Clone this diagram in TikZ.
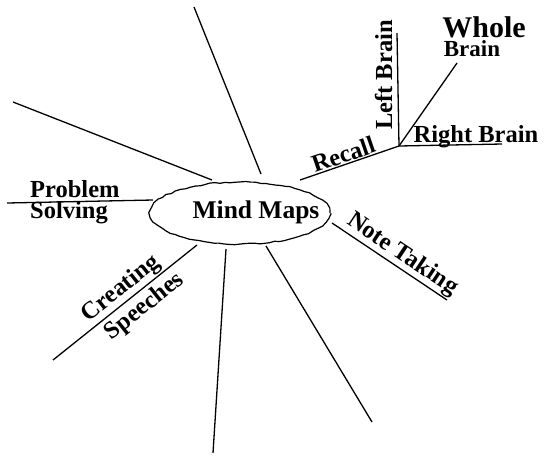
\documentclass[tikz,border=0pt]{standalone}
\usepackage{fontspec}
\setmainfont{Liberation Serif}
\usetikzlibrary{shapes.geometric,decorations.pathmorphing}

\begin{document}
\begin{tikzpicture}[x=1pt,y=-1pt,
  branch/.style={line width=1.3pt},
  word/.style={font=\bfseries\fontsize{24.5}{25}\selectfont, inner sep=0pt}]
  \useasboundingbox (0,0) rectangle (545,456);
  \pgfmathsetseed{7}
  % central topic
  \node[ellipse, draw, line width=1.2pt, minimum width=180pt, minimum height=62pt,
        decorate, decoration={random steps, segment length=5pt, amplitude=0.7pt}] (hub) at (240,213) {};
  \node[word, font=\bfseries\fontsize{25.5}{26}\selectfont] (hubtext) at (256,212) {Mind Maps};
  % free ends of the branches
  \coordinate (top1) at (194,7);   \coordinate (top2) at (261,174);
  \coordinate (ul1) at (13,102);   \coordinate (ul2) at (212,180);
  \coordinate (ps1) at (7,203);    \coordinate (ps2) at (153,200);
  \coordinate (cs1) at (53,360);   \coordinate (cs2) at (197,245);
  \coordinate (bot1) at (226,249); \coordinate (bot2) at (213,453);
  \coordinate (br1) at (266,246);  \coordinate (br2) at (372,422);
  \coordinate (nt1) at (332,223);  \coordinate (nt2) at (447,300);
  \coordinate (rc1) at (300,180);  \coordinate (brain) at (399,146);
  \coordinate (rb) at (502,144);   \coordinate (lb) at (397,33);
  \coordinate (wb) at (457,63);
  % plain branches
  \draw[branch] (top1) -- (top2);
  \draw[branch] (ul1) -- (ul2);
  \draw[branch] (bot1) -- (bot2);
  \draw[branch] (br1) -- (br2);
  % labelled branches
  \draw[branch] (ps1) -- (ps2);
  \node[word, anchor=base west] (problem) at (30,197) {Problem};
  \node[word, anchor=base west] (solving) at (30,218) {Solving};
  \draw[branch] (cs1) -- (cs2)
    node[word, pos=0.53, sloped, above=1pt] (creating) {Creating}
    node[word, pos=0.57, sloped, below=4pt] (speeches) {Speeches};
  \draw[branch] (nt1) -- (nt2)
    node[word, pos=0.55, sloped, above=1pt] (notetaking) {Note Taking};
  \draw[branch] (rc1) -- (brain)
    node[word, pos=0.47, sloped, above=1pt] (recall) {Recall};
  \draw[branch] (brain) -- (lb);
  \node[word, rotate=90, anchor=base] (leftbrain) at (392,75) {Left Brain};
  \draw[branch] (brain) -- (rb);
  \node[word, anchor=base] (rightbrain) at (476,142) {Right Brain};
  \draw[branch] (brain) -- (wb);
  \node[word, font=\bfseries\fontsize{30}{30}\selectfont, anchor=base] (whole) at (484,37) {Whole};
  \node[word, font=\bfseries\fontsize{23}{23}\selectfont, anchor=base] (wbrain) at (472,56) {Brain};
\end{tikzpicture}
\end{document}
